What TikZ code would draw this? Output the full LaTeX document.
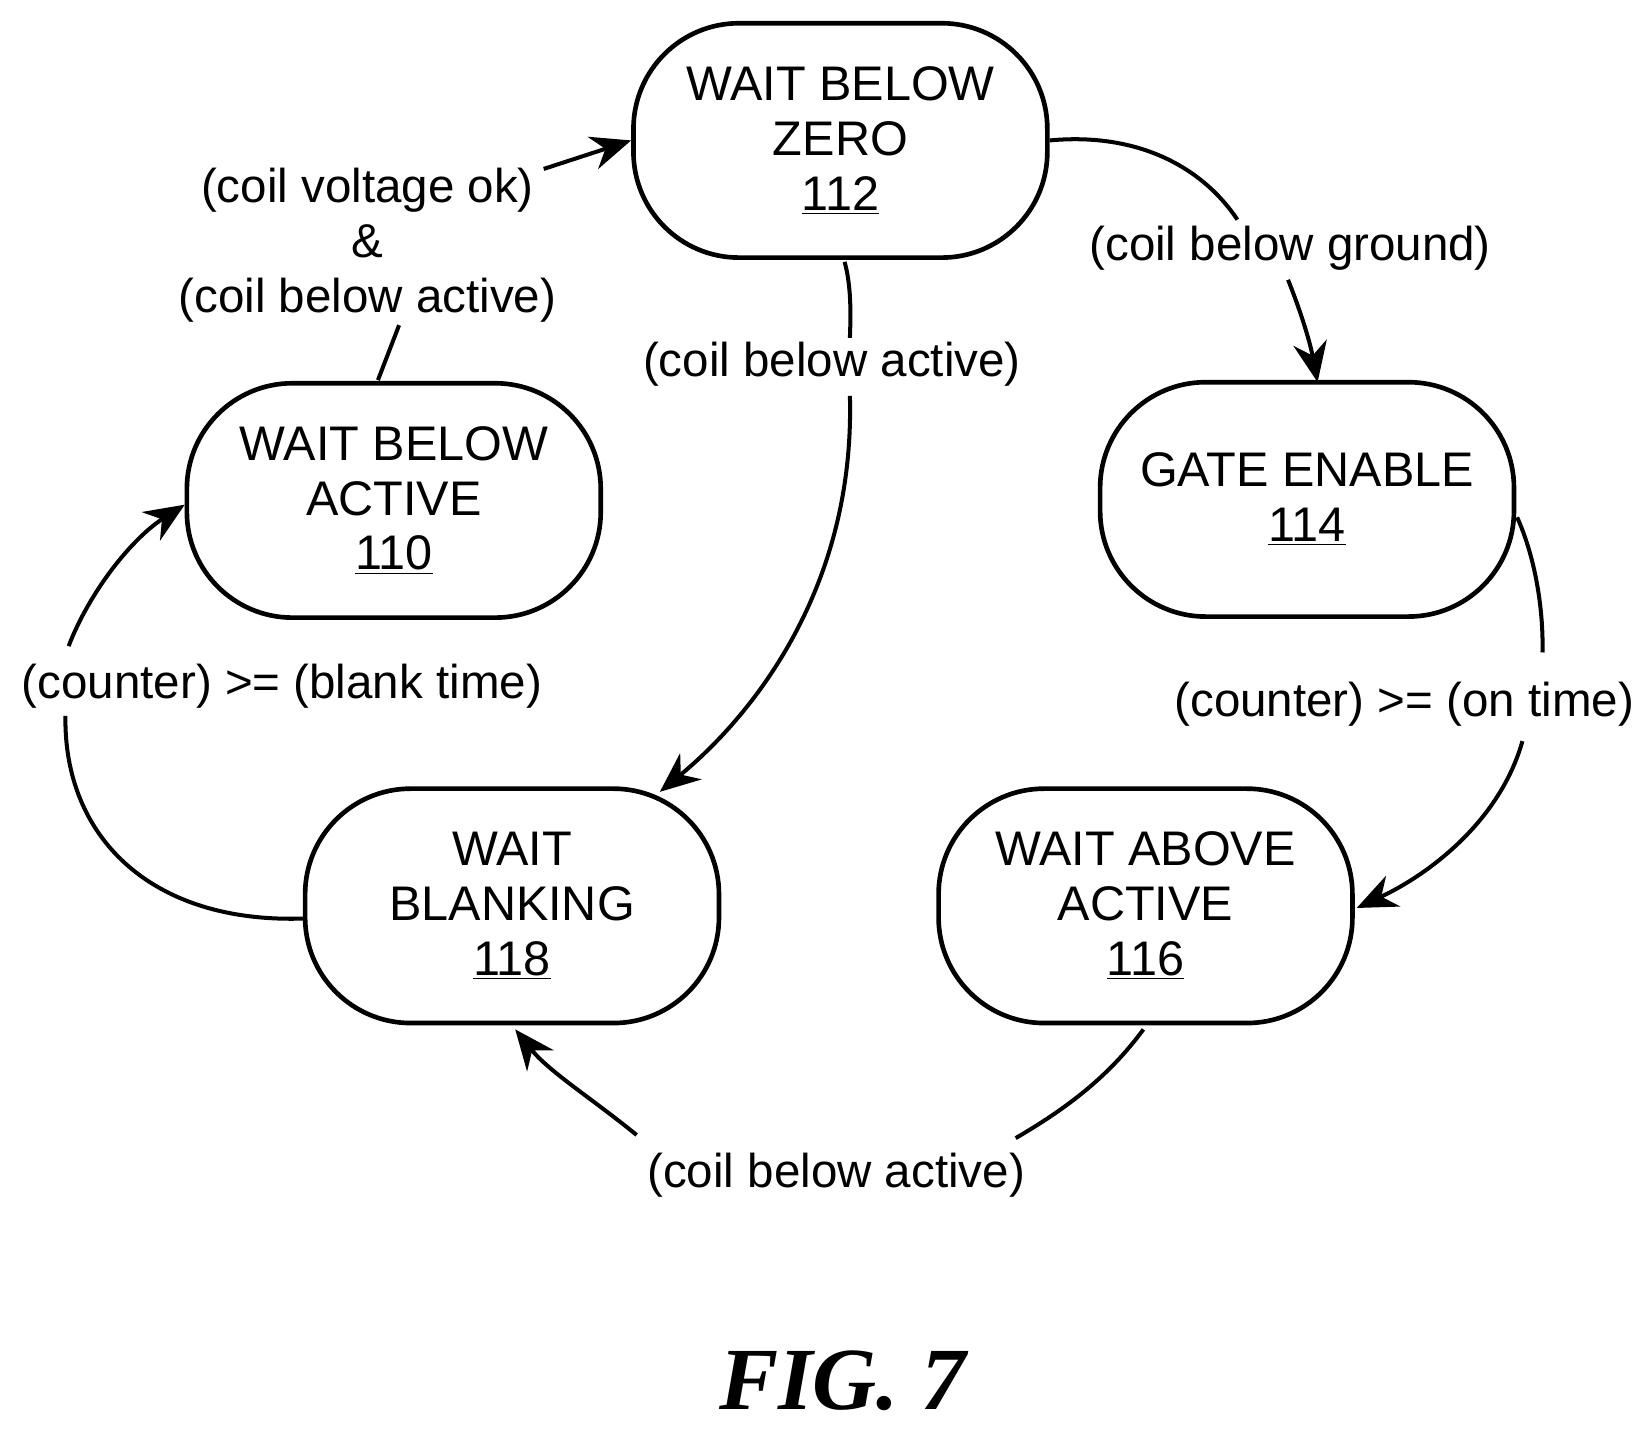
\documentclass[tikz,border=0pt]{standalone}
\usepackage{fontspec}
\setmainfont{Liberation Sans}
\newfontfamily\figfont{Liberation Serif}
\usetikzlibrary{arrows.meta}
\begin{document}
\begin{tikzpicture}[x=0.5pt,y=-0.5pt,
  st/.style={draw,line width=2.2pt,rounded corners=50pt,minimum width=196pt,minimum height=111pt,align=center,font=\fontsize{23}{26}\selectfont,inner sep=0pt},
  lb/.style={font=\fontsize{22.5}{26}\selectfont,align=center,inner sep=1pt},
  ed/.style={line width=1.9pt},
  ar/.style={line width=1.9pt,-{Stealth[length=19pt,width=16pt]}}]
\useasboundingbox (0,0) rectangle (1560,1362);
\node[st] (n112) at (796,133) {WAIT BELOW\\ZERO\\\underline{112}};
\node[st] (n110) at (373,474) {WAIT BELOW\\ACTIVE\\\underline{110}};
\node[st] (n114) at (1238,473) {GATE ENABLE\\\underline{114}};
\node[st] (n118) at (485,858) {WAIT\\BLANKING\\\underline{118}};
\node[st] (n116) at (1085,858) {WAIT ABOVE\\ACTIVE\\\underline{116}};
% labels
\node[lb] (l1) at (348,232) {(coil voltage ok)\\\&\\(coil below active)};
\node[lb] (l2) at (1222,235) {(coil below ground)};
\node[lb] (l3) at (788,345) {(coil below active)};
\node[lb] (l4) at (1330,667) {(counter) >= (on time)};
\node[lb] (l5) at (792,1113) {(coil below active)};
\node[lb] (l6) at (267,650) {(counter) >= (blank time)};
\coordinate (a1) at (378,308); \coordinate (b1) at (515,160);
\coordinate (a2) at (1172,208); \coordinate (b2) at (1220,265);
\coordinate (a3) at (805,320); \coordinate (b3) at (805,375);
\coordinate (a4) at (1461,618); \coordinate (b4) at (1442,702);
\coordinate (a5) at (962,1078); \coordinate (b5) at (603,1075);
\coordinate (a6) at (62,678); \coordinate (b6) at (65,612);
% edges
\draw[ed] (358,360) -- (a1);
\draw[ar] (b1) -- (n112.west);
\draw[ed] (n112.east) .. controls (1080,125) and (1140,160) .. (a2);
\draw[ar] (b2) .. controls (1230,290) and (1240,320) .. (1248,362);
\draw[ed] (800,248) .. controls (806,270) and (806,295) .. (a3);
\draw[ar] (b3) .. controls (810,560) and (710,680) .. (625,750);
\draw[ed] (1437,490) .. controls (1455,530) and (1462,580) .. (a4);
\draw[ar] (b4) .. controls (1420,780) and (1350,830) .. (1285,860);
\draw[ed] (1083,975) .. controls (1050,1020) and (1010,1050) .. (a5);
\draw[ar] (b5) .. controls (560,1040) and (520,1015) .. (488,975);
\draw[ed] (288,870) .. controls (140,875) and (60,790) .. (a6);
\draw[ar] (b6) .. controls (85,560) and (125,510) .. (175,478);
\node[font=\figfont\fontsize{42}{48}\selectfont\bfseries\itshape] (fig) at (798,1308) {FIG. 7};
\end{tikzpicture}
\end{document}
